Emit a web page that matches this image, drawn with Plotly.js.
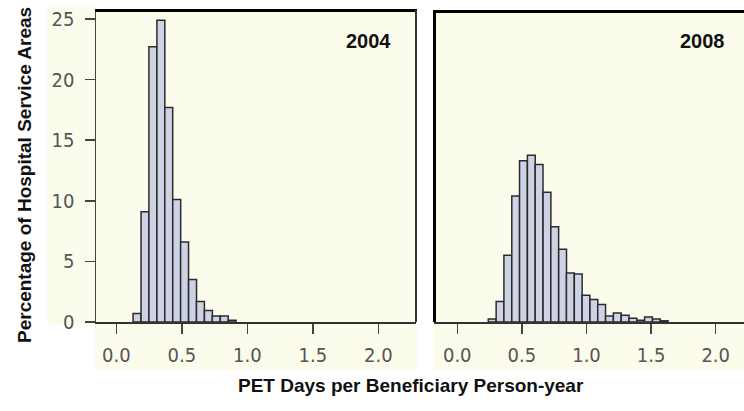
<!DOCTYPE html>
<html>
<head>
<meta charset="utf-8">
<script src="https://cdn.plot.ly/plotly-3.0.1.min.js"></script>
<style>html,body{margin:0;padding:0;background:#fff;}#chart{width:744px;height:411px;}</style>
</head>
<body>
<div id="chart"></div>
<script>
// ---- data ----
var binEdges2004 = [0.128, 0.189, 0.249, 0.310, 0.370, 0.431, 0.491, 0.552, 0.612, 0.673, 0.733, 0.794, 0.854];
var binWidth2004 = 0.0605;
var pct2004 = [0.7, 9.1, 22.7, 24.9, 17.7, 10.1, 6.6, 3.5, 1.7, 0.95, 0.5, 0.5, 0.15];

var binEdges2008 = [0.240, 0.301, 0.361, 0.422, 0.482, 0.543, 0.603, 0.664, 0.724, 0.785, 0.845, 0.906, 0.966,
                    1.027, 1.087, 1.148, 1.208, 1.269, 1.329, 1.390, 1.450, 1.511, 1.571];
var binWidth2008 = 0.0605;
var pct2008 = [0.25, 1.7, 5.5, 10.4, 13.3, 13.75, 13.0, 10.7, 7.85, 6.0, 4.05, 3.95, 2.2, 1.85, 1.45, 0.5, 0.75, 0.55, 0.3, 0.15, 0.42, 0.25, 0.1];

var xTickVals = [0.0, 0.5, 1.0, 1.5, 2.0];
var xTickText = ["0.0", "0.5", "1.0", "1.5", "2.0"];
var yTickVals = [0, 5, 10, 15, 20, 25];
var yTickText = ["0", "5", "10", "15", "20", "25"];
var panelLabels = ["2004", "2008"];
var xTitle = "PET Days per Beneficiary Person-year";
var yTitle = "Percentage of Hospital Service Areas";

// ---- layout helpers ----
var W = 744, H = 411;
function px(x){ return x / W; }
function py(y){ return 1 - y / H; }

var bg = "#fcfcec";
var barFill = "#cdd3e4";
var barLine = "#2b2b2b";
var tickFont = {family: "DejaVu Sans Condensed, Liberation Sans Narrow, Arial Narrow, sans-serif", size: 20, color: "#555555"};
var boldFont = {family: "Liberation Sans, Arial, sans-serif", size: 19, color: "#111"};

function centers(edges, w){ return edges.map(function(e){ return e + w/2; }); }

var traces = [
  {type: "bar", x: centers(binEdges2004, binWidth2004), y: pct2004, width: binWidth2004,
   marker: {color: barFill, line: {color: barLine, width: 1.5}}, xaxis: "x", yaxis: "y", hoverinfo: "x+y"},
  {type: "bar", x: centers(binEdges2008, binWidth2008), y: pct2008, width: binWidth2008,
   marker: {color: barFill, line: {color: barLine, width: 1.5}}, xaxis: "x2", yaxis: "y2", hoverinfo: "x+y"}
];

var yTop = 25.74;
var commonX = {
  tickmode: "array", tickvals: xTickVals, ticktext: xTickText,
  ticks: "outside", ticklen: 10, tickwidth: 1.5, tickcolor: "#444",
  showgrid: false, zeroline: false, showline: true, linecolor: "#333", linewidth: 1.5,
  tickfont: tickFont, ticklabelstandoff: 4, fixedrange: true
};

var layout = {
  width: W, height: H,
  margin: {l: 0, r: 0, t: 0, b: 0},
  paper_bgcolor: "#ffffff",
  plot_bgcolor: bg,
  showlegend: false,
  bargap: 0,
  xaxis: Object.assign({}, commonX, {domain: [px(96), px(416)], range: [-0.155, 2.288], anchor: "y"}),
  xaxis2: Object.assign({}, commonX, {domain: [px(434), 1], range: [-0.180, 2.219], anchor: "y2"}),
  yaxis: {
    domain: [py(322), py(10)], range: [0, yTop], anchor: "x",
    tickmode: "array", tickvals: yTickVals, ticktext: yTickText,
    ticks: "outside", ticklen: 10, tickwidth: 1.5, tickcolor: "#444",
    showgrid: false, zeroline: false, showline: true, linecolor: "#444", linewidth: 1.5,
    tickfont: tickFont, ticklabelstandoff: 6, fixedrange: true
  },
  yaxis2: {
    domain: [py(322), py(10)], range: [0, yTop], anchor: "x2",
    showticklabels: false, ticks: "", showgrid: false, zeroline: false, showline: false, fixedrange: true
  },
  shapes: [
    // pale backdrop behind tick labels
    {type: "rect", xref: "paper", yref: "paper", x0: px(47), x1: px(96), y0: py(325), y1: py(7), fillcolor: bg, line: {width: 0}, layer: "below"},
    {type: "rect", xref: "paper", yref: "paper", x0: px(95), x1: px(417), y0: py(370), y1: py(322), fillcolor: bg, line: {width: 0}, layer: "below"},
    {type: "rect", xref: "paper", yref: "paper", x0: px(433), x1: 1, y0: py(370), y1: py(322), fillcolor: bg, line: {width: 0}, layer: "below"},
    // left panel frame
    {type: "line", xref: "paper", yref: "paper", x0: px(95), x1: px(417), y0: py(10.5), y1: py(10.5), line: {color: "#000", width: 3}},
    {type: "line", xref: "paper", yref: "paper", x0: px(416), x1: px(416), y0: py(10), y1: py(322), line: {color: "#333", width: 2}},
    // right panel frame
    {type: "line", xref: "paper", yref: "paper", x0: px(433), x1: 1, y0: py(11.5), y1: py(11.5), line: {color: "#000", width: 3}},
    {type: "line", xref: "paper", yref: "paper", x0: px(434.5), x1: px(434.5), y0: py(10), y1: py(322), line: {color: "#000", width: 3}}
  ],
  annotations: [
    {xref: "paper", yref: "paper", x: px(368), y: py(41), text: "<b>" + panelLabels[0] + "</b>", showarrow: false,
     xanchor: "center", yanchor: "middle", font: {family: boldFont.family, size: 20, color: "#111"}},
    {xref: "paper", yref: "paper", x: px(702), y: py(41), text: "<b>" + panelLabels[1] + "</b>", showarrow: false,
     xanchor: "center", yanchor: "middle", font: {family: boldFont.family, size: 20, color: "#111"}},
    {xref: "paper", yref: "paper", x: px(411), y: py(385), text: "<b>" + xTitle + "</b>", showarrow: false,
     xanchor: "center", yanchor: "middle", font: boldFont},
    {xref: "paper", yref: "paper", x: px(24), y: py(175), text: "<b>" + yTitle + "</b>", showarrow: false,
     textangle: -90, xanchor: "center", yanchor: "middle", font: boldFont}
  ]
};

Plotly.newPlot("chart", traces, layout, {staticPlot: true, displayModeBar: false});
</script>
</body>
</html>
